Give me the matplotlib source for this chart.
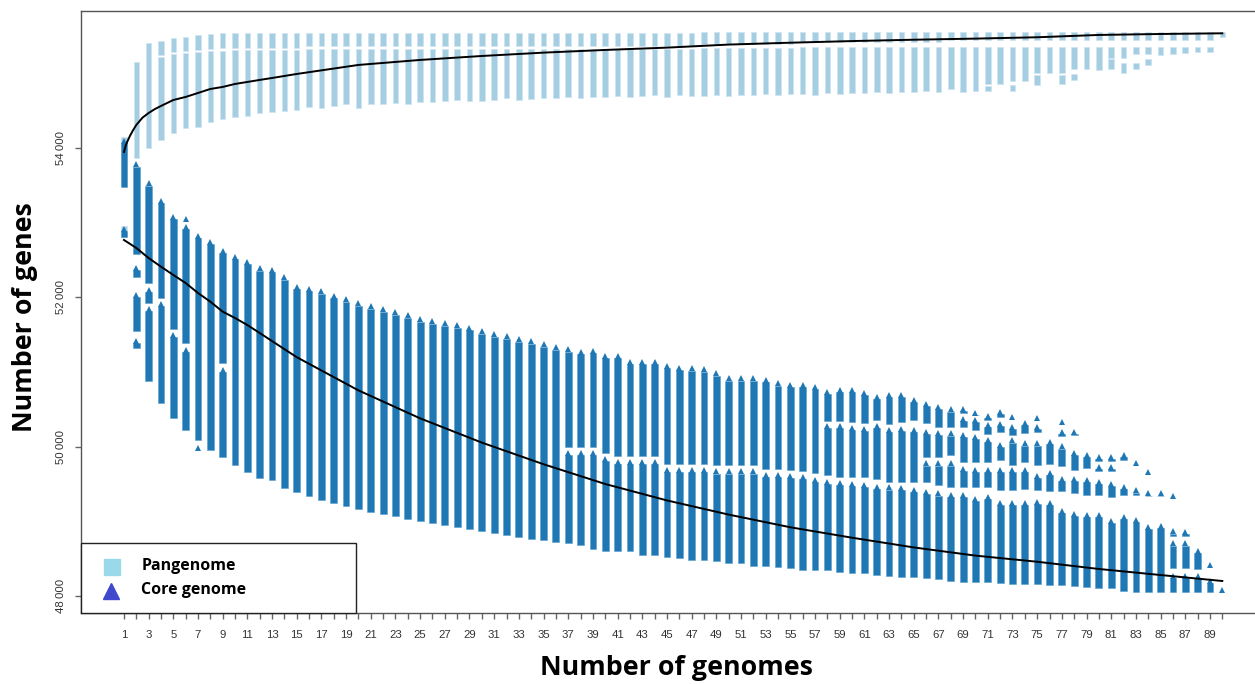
import numpy as np
import matplotlib
matplotlib.use("Agg")
import matplotlib.pyplot as plt
from matplotlib.transforms import offset_copy
from matplotlib.patches import Rectangle

nan = np.nan
genomes = list(range(1, 91))

# ---------------- Pangenome (light blue) ----------------
pan_top = [54150, 55160, 55410, 55440, 55480, 55490, 55520, 55530, 55540, 55545,
           55545, 55545, 55545, 55545, 55545, 55550, 55550, 55550, 55550, 55550,
           55550, 55550, 55550, 55550, 55550, 55550, 55550, 55550, 55550, 55550,
           55550, 55550, 55550, 55550, 55550, 55550, 55550, 55550, 55550, 55550,
           55550, 55550, 55550, 55550, 55550, 55550, 55550, 55555, 55555, 55555,
           55555, 55555, 55555, 55555, 55555, 55555, 55555, 55555, 55555, 55555,
           55555, 55555, 55555, 55555, 55555, 55555, 55555, 55555, 55555, 55555,
           55555, 55555, 55555, 55555, 55555, 55555, 55555, 55555, 55555, 55555,
           55555, 55555, 55555, 55555, 55555, 55555, 55555, 55555, 55555, 55560]
pan_gap_hi = [nan, nan, nan, 55255, 55290, 55300, 55315, 55325, 55340, 55350,
              55350, 55350, 55350, 55350, 55350, 55375, 55375, 55375, 55375, 55375,
              55375, 55375, 55375, 55375, 55375, 55375, 55375, 55375, 55375, 55375,
              55375, 55375, 55375, 55375, 55375, 55375, 55375, 55375, 55375, 55375,
              55375, 55375, 55375, 55375, 55375, 55375, 55375, 55400, 55400, 55400,
              55400, 55400, 55400, 55400, 55400, 55430, 55430, 55430, 55430, 55430,
              55430, 55430, 55430, 55430, 55430, 55430, 55430, 55452, 55452, 55452,
              55452, 55452, 55452, 55452, 55452, 55452, 55452, 55452, 55452, 55452,
              55452, 55452, 55452, 55452, 55452, 55452, 55452, 55452, 55452, 55490]
pan_gap_lo = [nan, nan, nan, 55225, 55265, 55275, 55290, 55300, 55310, 55320,
              55320, 55320, 55320, 55320, 55320, 55330, 55330, 55330, 55330, 55330,
              55330, 55330, 55330, 55330, 55330, 55330, 55330, 55330, 55330, 55330,
              55330, 55330, 55330, 55330, 55330, 55330, 55330, 55330, 55330, 55330,
              55330, 55330, 55330, 55330, 55330, 55330, 55330, 55350, 55350, 55350,
              55350, 55350, 55350, 55350, 55350, 55355, 55355, 55355, 55355, 55355,
              55355, 55355, 55355, 55355, 55355, 55355, 55355, 55362, 55362, 55362,
              55362, 55362, 55362, 55362, 55362, 55362, 55362, 55362, 55362, 55362,
              55362, 55362, 55362, 55362, 55362, 55362, 55362, 55362, 55362, nan]
pan_bottom = [53490, 53870, 54000, 54110, 54200, 54270, 54285, 54350, 54390, 54420,
              54430, 54470, 54490, 54500, 54510, 54553, 54540, 54567, 54594, 54540,
              54594, 54594, 54607, 54594, 54620, 54620, 54634, 54647, 54634, 54634,
              54647, 54674, 54647, 54660, 54674, 54674, 54687, 54674, 54687, 54687,
              54701, 54687, 54701, 54714, 54687, 54714, 54701, 54700, 54715, 54700,
              54715, 54715, 54730, 54715, 54730, 54730, 54715, 54740, 54730, 54740,
              54740, 54755, 54740, 54755, 54755, 54770, 54755, 54795, 54754, 54768,
              54862, 54862, 54902, 54902, 55009, 55009, 55009, 55063, 55063, 55049,
              55210, 55210, 55264, 55264, 55250, 55264, 55277, 55290, 55290, nan]
pan_extra = {1: (52960, 52810), 71: (54835, 54768), 73: (54848, 54768),
             75: (54983, 54848), 77: (54983, 54862), 78: (54996, 54916),
             81: (55197, 55063), 82: (55143, 55009), 83: (55143, 55063),
             84: (55197, 55116)}

# ---------------- Core genome (dark blue) ----------------
core_top = [54150, 53830, 53575, 53340, 53130, 53095, 52870, 52795, 52675, 52595,
            52525, 52436, 52410, 52315, 52190, 52167, 52127, 52073, 52020, 51966,
            51926, 51886, 51846, 51806, 51752, 51725, 51698, 51672, 51632, 51591,
            51551, 51524, 51484, 51457, 51417, 51377, 51350, 51319, 51332, 51260,
            51260, 51185, 51185, 51185, 51126, 51104, 51095, 51082, 51028, 50961,
            50961, 50961, 50938, 50894, 50871, 50871, 50850, 50783, 50804, 50804,
            50770, 50716, 50737, 50737, 50670, 50617, 50582, 50546, 50550, 50500,
            50460, 50510, 50450, 50360, 50430, 50110, 50380, 50240, 49930, 49910,
            49910, 49940, 49830, 49710, 49420, 49380, 48900, 48650, 48460, 48120]
core_bottom = [52810, 51320, 50885, 50590, 50380, 50225, 49960, 49955, 49865, 49755,
               49665, 49577, 49553, 49442, 49397, 49339, 49287, 49247, 49206, 49166,
               49126, 49099, 49072, 49032, 49005, 48978, 48951, 48925, 48898, 48871,
               48844, 48817, 48791, 48764, 48750, 48723, 48705, 48682, 48629, 48606,
               48606, 48606, 48548, 48548, 48525, 48504, 48481, 48481, 48468, 48445,
               48437, 48401, 48401, 48383, 48380, 48347, 48347, 48347, 48325, 48311,
               48303, 48280, 48267, 48258, 48249, 48236, 48222, 48204, 48190, 48190,
               48190, 48170, 48160, 48160, 48160, 48150, 48150, 48130, 48120, 48100,
               48100, 48070, 48050, 48050, 48050, 48050, 48050, 48050, 48050, 48050]
core_gaps = {
    1: [(53485, 52960)],
    2: [(52580, 52440), (52280, 52080), (51555, 51470)],
    3: [(52195, 52150), (51925, 51890)],
    4: [(51990, 51960)],
    5: [(51580, 51550)],
    6: [(53030, 52995), (51390, 51345)],
    7: [(50090, 50025)],
    9: [(51120, 51070)],
    37: [(50000, 49965)], 38: [(50000, 49965)], 39: [(50000, 49965)],
    40: [(49920, 49885)],
    41: [(49880, 49845)], 42: [(49880, 49845)], 43: [(49880, 49845)], 44: [(49880, 49845)],
    45: [(49770, 49730)], 46: [(49770, 49730)], 47: [(49770, 49730)], 48: [(49770, 49730)],
    49: [(49750, 49715)], 50: [(49750, 49715)], 51: [(49750, 49715)], 52: [(49750, 49715)],
    53: [(49705, 49670)], 54: [(49705, 49670)],
    55: [(49690, 49655)], 56: [(49670, 49640)], 57: [(49645, 49605)],
    58: [(50350, 50320), (49620, 49575)],
    59: [(50350, 50320), (49600, 49555)],
    60: [(50330, 50300), (49600, 49545)],
    61: [(50320, 50290), (49600, 49530)],
    62: [(50360, 50320), (49565, 49510)],
    63: [(50300, 50270), (49530, 49500)],
    64: [(50335, 50290), (49530, 49490)],
    65: [(50360, 50270), (49530, 49465)],
    66: [(50315, 50245), (49866, 49822), (49530, 49440)],
    67: [(50270, 50225), (49866, 49822), (49487, 49420)],
    68: [(50268, 50224), (49889, 49822), (49464, 49397)],
    69: [(50450, 50420), (50270, 50200), (49800, 49750), (49460, 49400)],
    70: [(50420, 50400), (50230, 50180), (49790, 49740), (49460, 49350)],
    71: [(50360, 50340), (50170, 50140), (49800, 49740), (49460, 49370)],
    72: [(50400, 50350), (50200, 50070), (49820, 49730), (49420, 49290)],
    73: [(50380, 50310), (50160, 50130), (49760, 49740), (49420, 49290)],
    74: [(50180, 50090), (49790, 49740), (49430, 49290)],
    75: [(50360, 50310), (50200, 50090), (49760, 49650), (49420, 49310)],
    76: [(49770, 49690), (49400, 49290)],
    77: [(50310, 50240), (50150, 50050), (49740, 49620), (49400, 49180)],
    78: [(50160, 49960), (49690, 49620), (49380, 49150)],
    79: [(49710, 49600), (49350, 49130)],
    80: [(49810, 49780), (49670, 49580), (49350, 49130)],
    81: [(49810, 49780), (49670, 49550), (49330, 49050)],
    82: [(49820, 49510), (49350, 49100)],
    83: [(49770, 49460), (49350, 49060)],
    84: [(49640, 49420), (49340, 48970)],
    85: [(49340, 48980)],
    86: [(49320, 48910), (48800, 48750), (48370, 48320)],
    87: [(48800, 48750), (48370, 48320)],
    88: [(48360, 48320)],
    89: [(48390, 48250)],
}

# ---------------- Mean curves ----------------
pan_mean_n = [1, 1.15, 1.3, 1.5, 1.75, 2, 2.5, 3, 3.5, 4, 5, 6, 7, 8, 9, 10, 11, 12,
              13, 14, 15, 20, 25, 30, 35, 40, 45, 50, 55, 60, 65, 70, 75, 80, 85, 90]
pan_mean = [53950, 54040, 54100, 54170, 54245, 54312, 54410, 54473, 54525, 54567,
            54647, 54688, 54741, 54795, 54822, 54862, 54889, 54916, 54942, 54969,
            54996, 55117, 55184, 55237, 55282, 55318, 55349, 55390, 55415, 55437,
            55455, 55470, 55488, 55519, 55532, 55541]
core_mean_n = [1, 2, 3, 4, 5, 6, 7, 8, 9, 10, 11, 12, 15, 20, 25, 30, 35, 40, 45, 50,
               55, 60, 65, 70, 75, 80, 85, 90]
core_mean = [52771, 52664, 52529, 52413, 52302, 52194, 52060, 51944, 51810, 51725,
             51631, 51524, 51200, 50755, 50380, 50055, 49765, 49500, 49280, 49090,
             48920, 48780, 48650, 48540, 48458, 48361, 48280, 48200]

y_ticks = [48000, 50000, 52000, 54000]
y_tick_labels = ["48\u2009000", "50\u2009000", "52\u2009000", "54\u2009000"]

# ---------------- Figure ----------------
W, H = 1255, 684
fig = plt.figure(figsize=(W / 100, H / 100), dpi=100)
ax = fig.add_axes([81 / W, 71 / H, 1174 / W, 602 / H])
ax.set_xlim(-2.48, 92.65)
ax.set_ylim(47771, 55840)

units_per_px = (55840 - 47771) / 602.0
ms = 5.0  # triangle marker size (points)
tri_h = ms * 100 / 72 * units_per_px

PAN_C = "#a6cee3"
CORE_C = "#1f78b4"


def pieces_pan(i):
    n = genomes[i]
    segs = []
    if np.isnan(pan_gap_hi[i]):
        segs.append((pan_top[i], pan_bottom[i]))
    else:
        segs.append((pan_top[i], pan_gap_hi[i]))
        if not np.isnan(pan_bottom[i]):
            segs.append((pan_gap_lo[i], pan_bottom[i]))
    if n in pan_extra:
        segs.append(pan_extra[n])
    return segs


def pieces_core(i):
    n = genomes[i]
    segs = []
    cur = core_top[i]
    for ghi, glo in core_gaps.get(n, []):
        segs.append((cur, ghi))
        cur = glo
    segs.append((cur, core_bottom[i]))
    return segs


px, pb, ph = [], [], []
for i in range(len(genomes)):
    for hi, lo in pieces_pan(i):
        px.append(genomes[i]); pb.append(lo); ph.append(hi - lo)
ax.bar(px, ph, bottom=pb, width=0.45, color=PAN_C, edgecolor="#cde4f0",
       linewidth=0.5, zorder=2)

cx, cb, ch, tx, ty = [], [], [], [], []
for i in range(len(genomes)):
    for hi, lo in pieces_core(i):
        top_bar = hi - tri_h * 0.8
        if top_bar > lo:
            cx.append(genomes[i]); cb.append(lo); ch.append(top_bar - lo)
        tx.append(genomes[i]); ty.append(hi)
ax.bar(cx, ch, bottom=cb, width=0.55, color=CORE_C, edgecolor="#5d9fcc",
       linewidth=0.4, zorder=3)
tri_trans = offset_copy(ax.transData, fig=fig, y=-ms / 2, units="points")
ax.plot(tx, ty, linestyle="none", marker="^", ms=ms, color=CORE_C,
        markeredgewidth=0, transform=tri_trans, zorder=3)

ax.plot(pan_mean_n, pan_mean, color="black", lw=1.4, zorder=4)
ax.plot(core_mean_n, core_mean, color="black", lw=1.4, zorder=4)

# ---------------- Axes styling ----------------
ax.spines["right"].set_visible(False)
for s in ["left", "bottom", "top"]:
    ax.spines[s].set_color("#555555")
    ax.spines[s].set_linewidth(1.0)

ax.set_xticks(genomes)
ax.set_xticklabels([str(n) if n % 2 == 1 else "" for n in genomes],
                   family=["Liberation Sans", "DejaVu Sans"])
ax.set_yticks(y_ticks)
ax.set_yticklabels(y_tick_labels, rotation=90, va="center",
                   family=["Liberation Sans", "DejaVu Sans"])
ax.tick_params(axis="x", length=4.5, width=1, color="#666666", labelsize=8.2,
               labelcolor="#333333", pad=8)
ax.tick_params(axis="y", length=4.5, width=1, color="#666666", labelsize=8.2,
               labelcolor="#333333", pad=6.5)

fig.text(676 / W, 1 - 675 / H, "Number of genomes", ha="center", va="baseline",
         fontsize=19.3, fontweight="bold", family="Open Sans")
fig.text(32 / W, 1 - 317 / H, "Number of genes", ha="center", va="baseline",
         rotation=90, rotation_mode="anchor", fontsize=19.3, fontweight="bold",
         family="Open Sans")

# ---------------- Legend ----------------
ax.add_patch(Rectangle((0, 0), (356 - 81) / 1174, (613 - 543) / 602,
                       transform=ax.transAxes, facecolor="white",
                       edgecolor="#222222", lw=1.0, zorder=6, clip_on=False))
ax.plot([(112 - 81) / 1174], [(613 - 566.5) / 602], marker="s", ms=11.5,
        color="#99d9ea", linestyle="none", transform=ax.transAxes, zorder=7,
        clip_on=False)
ax.plot([(111 - 81) / 1174], [(613 - 591) / 602], marker="^", ms=12,
        color="#3f48cc", linestyle="none", transform=ax.transAxes, zorder=7,
        clip_on=False)
ax.text((141.7 - 81) / 1174, (613 - 570) / 602, "Pangenome", transform=ax.transAxes,
        ha="left", va="baseline", fontsize=11.5, fontweight="bold",
        family="Open Sans", zorder=7)
ax.text((140.7 - 81) / 1174, (613 - 594) / 602, "Core genome", transform=ax.transAxes,
        ha="left", va="baseline", fontsize=11.5, fontweight="bold",
        family="Open Sans", zorder=7)

fig.savefig("out.png", dpi=100)
